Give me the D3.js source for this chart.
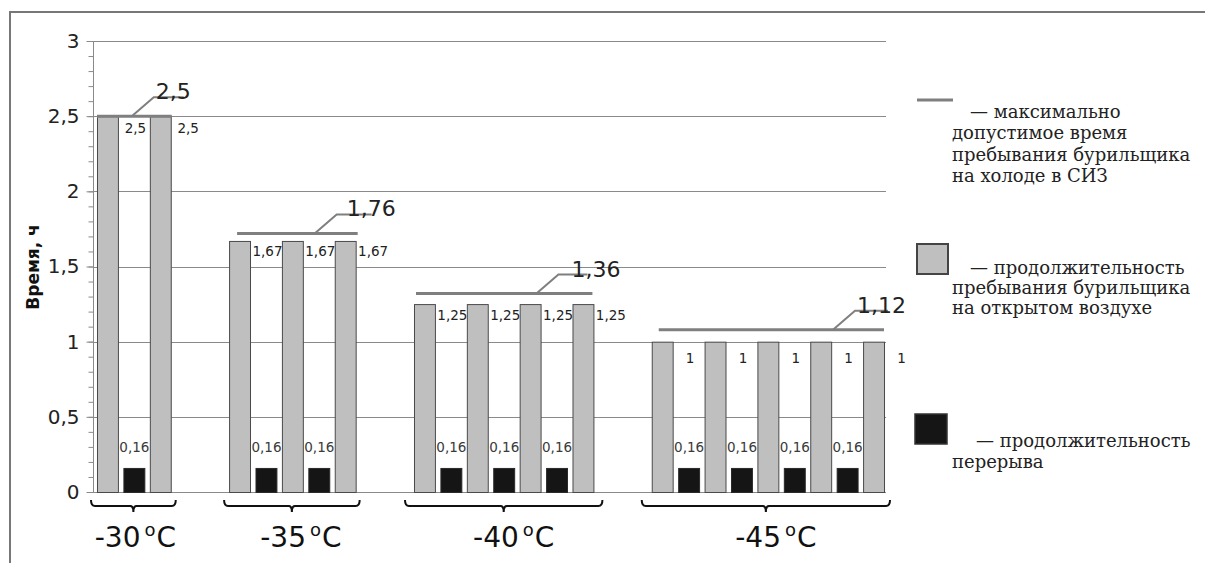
<!DOCTYPE html>
<html>
<head>
<meta charset="utf-8">
<script src="https://cdn.jsdelivr.net/npm/d3@7"></script>
<style>
  html, body { margin: 0; padding: 0; background: #fff; }
  svg { display: block; }
</style>
</head>
<body>
<svg id="chart" width="1205" height="563"></svg>
<script>
// ---------------- data ----------------
const categories   = ["-30", "-35", "-40", "-45"];      // temperature, ºC
const workTime     = [2.5, 1.67, 1.25, 1];              // продолжительность пребывания на открытом воздухе, ч
const workPeriods  = [2, 3, 4, 5];                      // number of outdoor periods in each group
const breakTime    = [0.16, 0.16, 0.16, 0.16];          // продолжительность перерыва, ч
const maxTime      = [2.5, 1.76, 1.36, 1.12];           // максимально допустимое время, ч (labels)
const maxLineLevel = [2.5, 1.72, 1.32, 1.08];           // level at which the limit line is drawn
const yTicks       = [0, 0.5, 1, 1.5, 2, 2.5, 3];
const yMinorTicks  = d3.range(0, 31).map(d => d / 10);
const yTitle       = "Время, ч";
const legendItems  = [
  ["— максимально", "допустимое время", "пребывания бурильщика", "на холоде в СИЗ"],
  ["— продолжительность", "пребывания бурильщика", "на открытом воздухе"],
  ["— продолжительность", "перерыва"]
];

// ---------------- styles / layout ----------------
const fmt = v => String(v).replace(".", ",");
const GRAY = "#bfbfbf", BLACK = "#151515", LINE = "#7f7f7f", GRID = "#8a8a8a";
const gapSlots = 2;
const labelDy       = [17, 15, 16, 21];
const lineInsetL    = [0, 8, 2, 7];
const lineInsetR    = [0, -1, 2, 1];
const leaderFromEnd = [40, 43, 56, 51];
const leaderHoriz   = [30, 35, 29, 33];
const leaderLabelDx = [2, 10, 13, 2];
const bracketPadL   = [6, 5, 9, 10];
const bracketPadR   = [4, 3, 8, 5];
const catShift      = [2, 9, 10, 10];

// build slots
const slots = [];
const groups = [];
let s = 0;
workPeriods.forEach((n, g) => {
  const first = s;
  for (let i = 0; i < 2 * n - 1; i++) {
    if (i % 2 === 0) slots.push({slot: s + i, g, type: "work", value: workTime[g]});
    else slots.push({slot: s + i, g, type: "break", value: breakTime[g]});
  }
  const last = s + 2 * n - 2;
  groups.push({g, first, last});
  s = last + 1 + gapSlots;
});
const nSlots = s - gapSlots;

const svg = d3.select("#chart");

const x = d3.scaleBand().domain(d3.range(nSlots)).range([94.75, 887.25])
  .paddingInner(0.17).paddingOuter(0.085);
const y = d3.scaleLinear().domain([0, 3]).range([492, 41]);
const bw = x.bandwidth();
const step = x.step();

// outer frame
svg.append("path").attr("d", "M10,563 L10,12 L1205,12")
  .attr("fill", "none").attr("stroke", "#777").attr("stroke-width", 2);

// gridlines
svg.append("g").selectAll("line").data(yTicks).join("line")
  .attr("x1", 93).attr("x2", 886)
  .attr("y1", d => Math.round(y(d)) + 0.5).attr("y2", d => Math.round(y(d)) + 0.5)
  .attr("stroke", GRID).attr("stroke-width", 1);

// y axis with minor ticks
const yAxisMinor = d3.axisLeft(y).tickValues(yMinorTicks).tickSize(5).tickFormat("");
const gMinor = svg.append("g").attr("transform", "translate(93.5,0)").call(yAxisMinor);
gMinor.select(".domain").remove();
gMinor.selectAll("line").attr("stroke", GRID);

const yAxis = d3.axisLeft(y).tickValues(yTicks).tickSize(7).tickPadding(7).tickFormat(fmt);
const gy = svg.append("g").attr("transform", "translate(93.5,0)").call(yAxis);
gy.select(".domain").attr("stroke", GRID).attr("d", `M0,${y(3)}V${y(0)}`);
gy.selectAll("line").attr("stroke", GRID);
gy.selectAll("text").attr("font-family", "DejaVu Sans").attr("font-size", 20)
  .attr("fill", "#222");

// y title
svg.append("text")
  .attr("transform", "translate(33,267) rotate(-90)")
  .attr("text-anchor", "middle").attr("dominant-baseline", "central")
  .attr("font-family", "DejaVu Sans").attr("font-weight", "bold").attr("font-size", 17)
  .attr("fill", "#111").text(yTitle);

// bars
svg.append("g").selectAll("rect").data(slots).join("rect")
  .attr("x", d => x(d.slot) + 0.5)
  .attr("y", d => y(d.value) + 0.5)
  .attr("width", bw - 1)
  .attr("height", d => y(0) - y(d.value))
  .attr("fill", d => d.type === "work" ? GRAY : BLACK)
  .attr("stroke", d => d.type === "work" ? "#4a4a4a" : "#2a2a2a")
  .attr("stroke-width", 1);

// value labels
svg.append("g").selectAll("text").data(slots).join("text")
  .attr("x", d => d.type === "work" ? x(d.slot) + step + bw / 2 + 1 : x(d.slot) + bw / 2)
  .attr("y", d => d.type === "work" ? y(d.value) + labelDy[d.g] : y(d.value) - 16)
  .attr("text-anchor", "middle")
  .attr("font-family", "DejaVu Sans").attr("font-size", 13.5)
  .attr("fill", d => d.type === "work" ? "#222" : "#3a3a3a")
  .text(d => fmt(d.value));

// limit lines, leaders, labels
groups.forEach(G => {
  const g = G.g;
  const xs = x(G.first) + lineInsetL[g];
  const xe = x(G.last) + bw - lineInsetR[g];
  const yl = y(maxLineLevel[g]);
  svg.append("line").attr("x1", xs).attr("x2", xe).attr("y1", yl).attr("y2", yl)
    .attr("stroke", LINE).attr("stroke-width", 3);
  const lx = xe - leaderFromEnd[g];
  const dx = lx + 22, dy = yl - 19;
  svg.append("path").attr("d", `M${lx},${yl} L${dx},${dy} L${dx + leaderHoriz[g]},${dy}`)
    .attr("fill", "none").attr("stroke", LINE).attr("stroke-width", 2);
  svg.append("text").attr("x", dx + leaderLabelDx[g]).attr("y", dy + 2)
    .attr("font-family", "DejaVu Sans").attr("font-size", 22).attr("fill", "#222")
    .text(fmt(maxTime[g]));

  // bracket
  const bx0 = x(G.first) - bracketPadL[g];
  const bx1 = x(G.last) + bw + bracketPadR[g];
  const bc = (bx0 + bx1) / 2;
  svg.append("path")
    .attr("d", `M${bx0},500 Q${bx0},506 ${bx0 + 4},506 L${bc - 3},506 Q${bc},506 ${bc},512 Q${bc},506 ${bc + 3},506 L${bx1 - 4},506 Q${bx1},506 ${bx1},500`)
    .attr("fill", "none").attr("stroke", "#111").attr("stroke-width", 2);

  // category label
  const t = svg.append("text").attr("x", bc + catShift[g]).attr("y", 547)
    .attr("text-anchor", "middle").attr("font-family", "DejaVu Sans")
    .attr("font-size", 28).attr("fill", "#111");
  t.append("tspan").text(categories[g]);
  t.append("tspan").attr("dx", 4).attr("dy", -11).attr("font-size", 18).text("o");
  t.append("tspan").attr("dx", 1).attr("dy", 11).text("C");
});

// legend
const lg = svg.append("g").attr("font-family", "DejaVu Serif").attr("font-size", 18).attr("fill", "#222");
lg.append("line").attr("x1", 917).attr("x2", 953).attr("y1", 100).attr("y2", 100)
  .attr("stroke", LINE).attr("stroke-width", 3);
lg.append("rect").attr("x", 917).attr("y", 244).attr("width", 31).attr("height", 30)
  .attr("fill", GRAY).attr("stroke", "#444").attr("stroke-width", 2);
lg.append("rect").attr("x", 915).attr("y", 414).attr("width", 32).attr("height", 30)
  .attr("fill", BLACK).attr("stroke", "#333").attr("stroke-width", 1.5);

const legendPos = [
  {y0: 118, step: 21.3, firstX: 970},
  {y0: 274, step: 20, firstX: 970},
  {y0: 447, step: 21, firstX: 976}
];
legendItems.forEach((lines, i) => {
  const p = legendPos[i];
  lines.forEach((ln, j) => {
    lg.append("text").attr("x", j === 0 ? p.firstX : 952).attr("y", p.y0 + j * p.step).text(ln);
  });
});
</script>
</body>
</html>
